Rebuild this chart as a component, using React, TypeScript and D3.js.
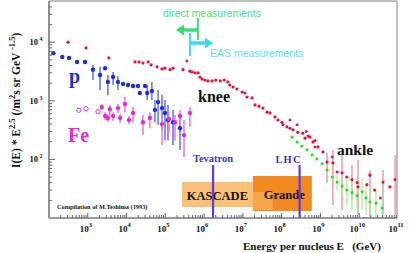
import * as d3 from 'd3';

const W = 409;
const H = 253;

// decade exponents shown as tick labels
const xTickExps = [3, 4, 5, 6, 7, 8, 9, 10, 11];
const yTickExps = [2, 3, 4];

// [energy GeV, I(E)*E^2.5, errLo, errHi]
type Pt = [number, number, number?, number?];

const protonPts: Pt[] = [
  [1.3e2, 6.5e3], [2.2e2, 5.6e3], [3.3e2, 5.4e3], [5.3e2, 4.6e3], [8.5e2, 4.6e3],
  [1.36e3, 3.4e3, 2.26e3, 4.1e3], [2.07e3, 2.75e3, 1.53e3, 3.8e3], [2.8e3, 3.6e3],
  [3.3e3, 2.1e3, 1.26e3, 2.75e3], [4.5e3, 2.55e3, 1.86e3, 3.1e3], [6.0e3, 2.1e3, 1.53e3, 2.65e3],
  [8.1e3, 1.94e3], [1.09e4, 1.86e3], [1.47e4, 1.79e3], [1.97e4, 1.79e3], [3.0e4, 1.79e3],
  [2.2e4, 1.36e3], [3.4e4, 1.36e3, 1.03e3, 1.86e3], [4.5e4, 1.47e3, 1.03e3, 2.1e3],
  [5.4e4, 7.0e2, 4.3e2, 1.03e3], [6.5e4, 9.5e2, 3.9e2, 1.53e3], [8.2e4, 7.5e2, 3.2e2, 1.26e3],
  [9.8e4, 6.2e2, 2.1e2, 1.03e3], [1.17e5, 4.7e2, 2.1e2, 8.5e2], [1.58e5, 4.3e2, 1.76e2, 7.0e2],
  [2.39e5, 3.4e2, 1.45e2, 5.1e2],
];

const ironOpen: Pt[] = [[5.9e2, 6.9e2], [9.0e2, 7.3e2], [1.84e3, 6.5e2]];

const ironPts: Pt[] = [
  [2.3e3, 7.8e2, 7.0e2, 8.8e2], [2.8e3, 5.5e2, 4.7e2, 6.4e2], [3.3e3, 5.1e2, 4.3e2, 6.0e2],
  [3.7e3, 7.2e2, 5.5e2, 8.5e2], [4.5e3, 5.5e2, 4.5e2, 6.4e2], [6.0e3, 7.5e2, 6.2e2, 8.8e2],
  [6.8e3, 5.1e2, 4.2e2, 6.0e2], [9.1e3, 8.8e2, 6.4e2, 1.16e3], [1.16e4, 4.7e2, 4.0e2, 5.5e2],
  [1.47e4, 6.2e2, 4.3e2, 7.8e2], [2.65e4, 4.3e2, 2.6e2, 5.7e2], [4.0e4, 5.1e2, 3.4e2, 6.4e2],
  [8.2e4, 4.0e2, 1.76e2, 5.3e2], [1.24e5, 4.9e2, 2.8e2, 6.2e2], [1.77e5, 4.3e2, 2.1e2, 5.7e2],
  [2.39e5, 5.5e2, 3.4e2, 7.0e2], [3.03e5, 2.6e2, 1.1e2, 4.7e2], [4.3e5, 6.2e2, 3.6e2, 7.8e2],
];

const allPartPts: Pt[] = [
  [3.1e2, 1.0e4], [9.0e2, 8.0e3], [3.5e3, 5.4e3], [1.65e4, 4.6e3], [2.1e4, 4.6e3],
  [2.65e4, 4.4e3], [3.6e4, 4.6e3], [4.3e4, 4.1e3], [6.1e4, 3.8e3], [8.2e4, 3.5e3],
  [9.8e4, 3.6e3], [1.32e5, 3.4e3], [1.58e5, 3.6e3], [2.85e5, 3.4e3], [4.3e5, 3.2e3],
  [4.9e5, 3.1e3], [5.8e5, 3.0e3], [7.0e5, 3.0e3], [7.8e5, 2.55e3], [8.8e5, 2.35e3],
  [1.05e6, 2.26e3], [1.26e6, 2.18e3], [1.6e6, 2.18e3], [2.0e6, 2.26e3], [2.6e6, 2.18e3],
  [3.3e6, 2.26e3], [4.1e6, 2.1e3], [4.6e6, 1.86e3], [5.6e6, 1.72e3], [7.0e6, 1.59e3],
  [9.5e6, 1.41e3], [1.13e7, 1.36e3], [1.28e7, 1.16e3], [1.72e7, 1.12e3], [2.05e7, 8.5e2],
  [2.6e7, 8.1e2], [3.3e7, 7.5e2], [4.2e7, 6.4e2], [5.0e7, 6.2e2], [6.7e7, 5.3e2],
  [8.0e7, 4.7e2], [1.02e8, 4.3e2], [1.08e8, 3.9e2], [1.37e8, 3.6e2], [1.64e8, 3.4e2],
  [1.96e8, 3.2e2], [2.6e8, 2.9e2], [3.5e8, 2.8e2], [4.0e8, 2.3e2], [4.8e8, 2.5e2],
  [5.4e8, 2.4e2], [6.4e8, 1.98e2], [7.2e8, 2.1e2], [8.6e8, 1.63e2], [1.16e9, 1.34e2],
  [1.48e9, 9.0e1, 4.0e1, 1.3e2], [2.1e9, 8.7e1, 16.7, 1.45e2], [2.7e9, 6.1e1], [3.6e9, 5.9e1, 13.7, 1.19e2],
  [4.8e9, 5.0e1], [6.5e9, 4.5e1, 2.0e1, 8.0e1], [8.8e9, 4.0e1], [9.3e9, 3.4e1, 11.2, 9.8e1],
  [1.58e10, 3.7e1], [1.89e10, 5.4e1, 11.2, 6.6e1], [2.5e10, 3.0e1], [4.1e10, 4.1e1, 11.2, 6.6e1],
  [6.2e10, 3.4e1], [8.4e10, 4.5e1, 11.2, 1.19e2],
];

// darker scattered all-particle points
const allPartAlt: Pt[] = [
  [3.6e5, 4.8e3], [1.64e8, 4.7e2], [2.5e8, 3.9e2], [4.3e8, 3.0e2], [7.2e8, 1.63e2],
  [2.0e9, 1.1e2], [1.89e10, 5.4e1], [3.5e10, 2.2e1],
];

const grandePts: Pt[] = [
  [1.85e8, 2.4e2], [2.5e8, 1.98e2], [3.3e8, 1.69e2], [4.5e8, 1.45e2], [6.1e8, 1.19e2],
  [8.1e8, 1.02e2], [1.1e9, 8.4e1], [1.48e9, 6.6e1], [2.0e9, 5.0e1],
  [2.7e9, 4.1e1, 3.0e1, 5.4e1], [3.6e9, 3.5e1, 24.7, 4.8e1], [4.8e9, 3.0e1, 16.7, 4.5e1],
  [6.5e9, 2.7e1, 13.7, 4.5e1], [8.8e9, 2.4e1, 12.7, 3.7e1], [1.18e10, 2.8e1, 13.7, 4.8e1],
  [1.49e10, 2.2e1, 11.2, 3.7e1], [1.89e10, 1.87e1, 10, 3.0e1], [2.7e10, 1.8e1, 10, 3.0e1],
  [3.9e10, 1.48e1, 10, 24.7],
];

// experiment ranges / accelerator equivalents (GeV)
const kascadeRange = [2.7e5, 1.8e7];
const grandeRange = [1.8e7, 6.0e8];
const tevatronE = 1.7e6;
const lhcE = 2.9e8;
const directLimit = 6.9e5;
const easLimit = 4.3e5;

const serif = '"Liberation Serif", "DejaVu Serif", serif';
const sans = '"Liberation Sans", Arial, sans-serif';

export default function App() {
  const left = 49;
  const right = 397;
  const top = 1;
  const bottom = 218;
  const x = d3.scaleLog().domain([1e2, 1e11]).range([49, 398]);
  const y = d3.scaleLog().domain([1e1, 5.25e4]).range([218, 0]);

  const isMajor = (t: number) => Math.abs(Math.log10(t) - Math.round(Math.log10(t))) < 1e-6;
  const xt = x.ticks().filter((t) => x(t) > left + 1 && x(t) < right);
  const yt = y.ticks().filter((t) => y(t) > top + 1 && y(t) < bottom);

  const errBars = (pts: Pt[], color: string, w: number) =>
    pts
      .filter((d) => d[2] !== undefined)
      .map((d, i) => (
        <line key={'e' + i} x1={x(d[0])} x2={x(d[0])} y1={y(d[2] as number)} y2={y(d[3] as number)}
          stroke={color} strokeWidth={w} />
      ));
  const dots = (pts: Pt[], color: string, r: number) =>
    pts.map((d, i) => <circle key={'d' + i} cx={x(d[0])} cy={y(d[1])} r={r} fill={color} />);

  return (
    <div style={{ position: 'fixed', left: 0, top: 0 }}>
      <svg width={W} height={H} style={{ display: 'block', background: '#fff' }}>
        <defs>
          <clipPath id="plot">
            <rect x={left} y={top} width={right - left} height={bottom - top} />
          </clipPath>
        </defs>

        {/* detector boxes */}
        <rect x={x(grandeRange[0])} y={176} width={x(grandeRange[1]) - x(grandeRange[0])} height={35} fill="#f3891f" />
        <rect x={x(kascadeRange[0])} y={182} width={x(kascadeRange[1]) - x(kascadeRange[0])} height={25} fill="#f9c077" />
        <rect x={x(grandeRange[0])} y={192} width={20} height={18} fill="#f7a64c" />
        <text x={(x(kascadeRange[0]) + x(kascadeRange[1])) / 2} y={200} textAnchor="middle" fontFamily={serif}
          fontWeight="bold" fontSize={12.5} fill="#111">KASCADE</text>
        <text x={(x(grandeRange[0]) + x(grandeRange[1])) / 2 + 2} y={199} textAnchor="middle" fontFamily={serif}
          fontWeight="bold" fontSize={12.5} fill="#111">Grande</text>

        {/* accelerators */}
        <line x1={x(tevatronE)} x2={x(tevatronE)} y1={165} y2={bottom} stroke="#5a3be6" strokeWidth={2.2} />
        <line x1={x(lhcE)} x2={x(lhcE)} y1={165} y2={bottom} stroke="#5a3be6" strokeWidth={2.2} />
        <text x={x(tevatronE)} y={162} textAnchor="middle" fontFamily={serif} fontWeight="bold" fontSize={10.5}
          fill="#4630c8">Tevatron</text>
        <text x={x(lhcE) - 11} y={163} textAnchor="middle" fontFamily={serif} fontWeight="bold" fontSize={10.5}
          letterSpacing={1.2} fill="#4630c8">LHC</text>

        <g clipPath="url(#plot)">
          {errBars(allPartPts, '#f08a98', 1.3)}
          {errBars(grandePts, '#a8ee98', 1.3)}
          {errBars(protonPts, '#6a78ee', 1.6)}
          {errBars(ironPts, '#f07ae6', 1.6)}
          {dots(grandePts, '#35dc2a', 1.6)}
          {dots(allPartPts, '#e5143e', 1.6)}
          {dots(allPartAlt, '#b82a6a', 1.5)}
          {dots(protonPts, '#1e2fd8', 2.2)}
          {dots(ironPts, '#e42bd6', 2.2)}
          {ironOpen.map((d, i) => (
            <circle key={'o' + i} cx={x(d[0])} cy={y(d[1])} r={2.2} fill="none" stroke="#e42bd6" strokeWidth={1} />
          ))}
        </g>

        {/* frame */}
        <line x1={left} x2={right} y1={top} y2={top} stroke="#aaa" strokeWidth={1.5} />
        <line x1={right} x2={right} y1={top} y2={bottom} stroke="#aaa" strokeWidth={1.5} />
        <line x1={left} x2={left} y1={top} y2={bottom} stroke="#777" strokeWidth={1.6} />
        <line x1={left} x2={right} y1={bottom} y2={bottom} stroke="#777" strokeWidth={1.6} />
        {xt.map((t, i) => (
          <line key={'xt' + i} x1={x(t)} x2={x(t)} y1={bottom} y2={bottom - (isMajor(t) ? 5 : 3)} stroke="#666" strokeWidth={1} />
        ))}
        {yt.map((t, i) => (
          <line key={'yt' + i} x1={left} x2={left + (isMajor(t) ? 6 : 3)} y1={y(t)} y2={y(t)} stroke="#666" strokeWidth={1} />
        ))}

        {/* tick labels */}
        {xTickExps.map((e) => (
          <text key={'xl' + e} x={x(Math.pow(10, e)) - 2} y={232} textAnchor="middle" fontFamily={serif}
            fontWeight="bold" fontSize={9} fill="#111">
            10<tspan fontSize={6.5} dy={-5}>{e}</tspan>
          </text>
        ))}
        {yTickExps.map((e) => (
          <text key={'yl' + e} x={36} y={y(Math.pow(10, e)) + 3} textAnchor="middle" fontFamily={serif}
            fontWeight="bold" fontSize={8.5} fill="#111">
            10<tspan fontSize={6} dy={-4}> {e}</tspan>
          </text>
        ))}

        {/* axis titles */}
        <text transform="translate(20,168) rotate(-90)" fontFamily={serif} fontWeight="bold" fontSize={11.5} fill="#111">
          I(E) * E<tspan fontSize={8.5} dy={-5}>2.5</tspan><tspan dy={5}> (/m</tspan>
          <tspan fontSize={8.5} dy={-5}>2</tspan><tspan dy={5}>s sr GeV </tspan>
          <tspan fontSize={8.5} dy={-5}>-1.5</tspan><tspan dy={5}>)</tspan>
        </text>
        <text x={243} y={250} fontFamily={serif} fontWeight="bold" fontSize={11} fill="#111" xmlSpace="preserve">
          Energy per nucleus E   (GeV)
        </text>
        <text x={57} y={209} fontFamily={serif} fontWeight="bold" fontSize={6.3} fill="#111">
          Compilation of M.Teshima (1993)
        </text>

        {/* labels */}
        <text x={69} y={83} fontFamily={serif} fontWeight="bold" fontSize={20} fill="#1e2fd8">p</text>
        <text x={68} y={142} fontFamily={serif} fontWeight="bold" fontSize={20} fill="#e42bd6">Fe</text>
        <text x={198} y={102} fontFamily={serif} fontWeight="bold" fontSize={16} fill="#111">knee</text>
        <text x={337} y={155} fontFamily={serif} fontWeight="bold" fontSize={15.5} fill="#111">ankle</text>

        {/* direct / EAS arrows */}
        <text x={163} y={17} fontFamily={sans} fontSize={10.5} fill="#4cdc80">direct measurements</text>
        <line x1={x(directLimit)} x2={x(directLimit)} y1={18} y2={40} stroke="#3bd97a" strokeWidth={2} />
        <line x1={x(directLimit)} x2={182} y1={30} y2={30} stroke="#3bd97a" strokeWidth={3.5} />
        <path d={`M176,30 L184,24.5 L184,35.5 Z`} fill="#3bd97a" />
        <line x1={x(easLimit)} x2={x(easLimit)} y1={33} y2={56} stroke="#38dcea" strokeWidth={2} />
        <line x1={x(easLimit)} x2={206} y1={43} y2={43} stroke="#38dcea" strokeWidth={3.5} />
        <path d={`M213,43 L205,37.5 L205,48.5 Z`} fill="#38dcea" />
        <text x={210} y={57} fontFamily={sans} fontSize={10.5} fill="#5ee0e8">EAS measurements</text>
      </svg>
    </div>
  );
}
